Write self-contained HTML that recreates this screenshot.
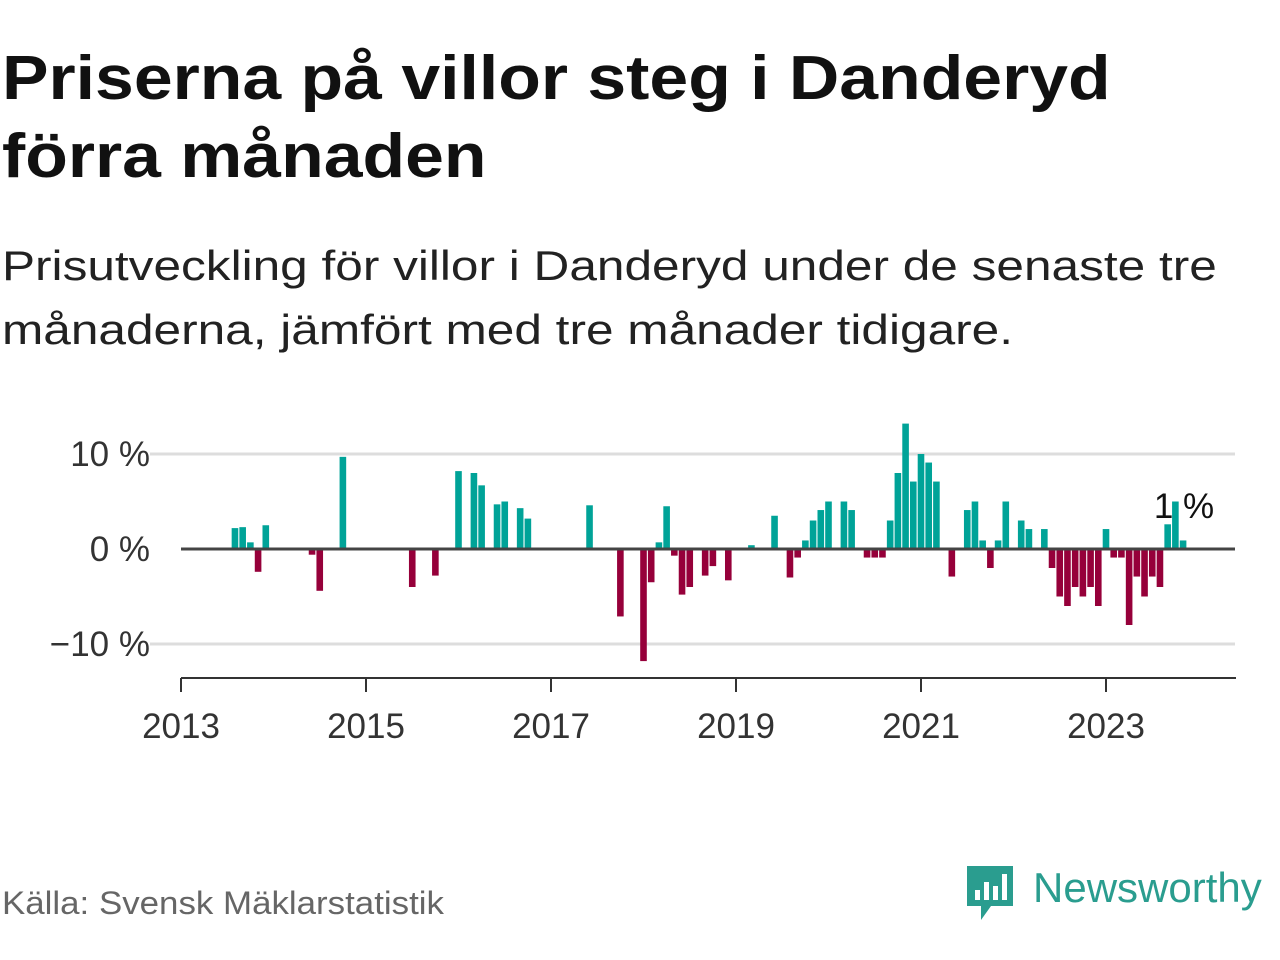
<!DOCTYPE html>
<html><head><meta charset="utf-8">
<style>
body{margin:0;width:1280px;height:960px;background:#fff;font-family:"Liberation Sans",sans-serif;overflow:hidden;position:relative}
h1{position:absolute;left:2px;top:40px;margin:0;font-size:62px;line-height:78px;font-weight:bold;color:#111;transform:scaleX(1.125);transform-origin:0 0;white-space:nowrap}
.sub{position:absolute;left:2px;top:234px;margin:0;font-size:42px;line-height:64px;color:#222;transform:scaleX(1.18);transform-origin:0 0;white-space:nowrap}
.src{position:absolute;left:2px;top:885px;font-size:32px;color:#666;transform:scaleX(1.09);transform-origin:0 0;white-space:nowrap}
.logo{position:absolute;left:965px;top:862px}
</style></head><body>
<h1>Priserna på villor steg i Danderyd<br>förra månaden</h1>
<p class="sub">Prisutveckling för villor i Danderyd under de senaste tre<br>månaderna, jämfört med tre månader tidigare.</p>
<svg id="chart" width="1280" height="960" style="position:absolute;left:0;top:0"></svg>
<div class="src">Källa: Svensk Mäklarstatistik</div>
<div class="logo">
<svg width="315" height="64"><path d="M2 4h46v40h-22l-10 14v-14h-14z" fill="#2a9d8f"/><rect x="10" y="28" width="5" height="10" fill="#fff"/><rect x="19" y="20" width="5" height="18" fill="#fff"/><rect x="28" y="24" width="5" height="14" fill="#fff"/><rect x="37" y="12" width="5" height="26" fill="#fff"/><text x="68" y="40" font-family="Liberation Sans" font-size="42" fill="#2a9d8f">Newsworthy</text></svg></div>
<script>
const months=[7,8,9,10,11,17,18,21,30,33,36,38,39,41,42,44,45,53,57,60,61,62,63,64,65,66,68,69,71,74,77,79,80,81,82,83,84,86,87,89,90,91,92,93,94,95,96,97,98,100,102,103,104,105,106,107,109,110,112,113,114,115,116,117,118,119,120,121,122,123,124,125,126,127,128,129,130];
const values=[2.2,2.3,0.7,-2.4,2.5,-0.6,-4.4,9.7,-4.0,-2.8,8.2,8.0,6.7,4.7,5.0,4.3,3.2,4.6,-7.1,-11.8,-3.5,0.7,4.5,-0.7,-4.8,-4.0,-2.8,-1.8,-3.3,0.4,3.5,-3.0,-0.9,0.9,3.0,4.1,5.0,5.0,4.1,-0.9,-0.9,-0.9,3.0,8.0,13.2,7.1,10.0,9.1,7.1,-2.9,4.1,5.0,0.9,-2.0,0.9,5.0,3.0,2.1,2.1,-2.0,-5.0,-6.0,-4.0,-5.0,-4.0,-6.0,2.1,-0.9,-0.9,-8.0,-2.9,-5.0,-2.9,-4.0,2.6,5.0,0.9];
const yTicks=[10,0,-10];
const yLabels=["10 %","0 %","−10 %"];
const xYears=[2013,2015,2017,2019,2021,2023];
const ns="http://www.w3.org/2000/svg";
const svg=document.getElementById('chart');
const x=m=>181+m*(185/24);
const y=v=>549-v*9.5;
function mk(t,a){const e=document.createElementNS(ns,t);for(const k in a)e.setAttribute(k,a[k]);svg.appendChild(e);return e;}
yTicks.forEach((t,i)=>{
 if(t!==0){const g=mk('line',{x1:150,x2:1235,y1:y(t),y2:y(t),stroke:'#ddd','stroke-width':3});
 
 }
 const l=mk('text',{x:150,y:y(t)+12,'text-anchor':'end','font-size':35,fill:'#333','font-family':'Liberation Sans'});l.textContent=yLabels[i];
 
 
});
months.forEach((m,i)=>{const v=values[i];
 const r=mk('rect',{x:x(m)-3.3,width:6.6,y:v>0?y(v):549,height:Math.abs(v)*9.5,fill:v>0?'#00a398':'#96003a'});
 
 
});
const z=mk('line',{x1:181,x2:1235,y1:549,y2:549,stroke:'#444','stroke-width':3});


const ax=mk('line',{x1:181,x2:1236,y1:678,y2:678,stroke:'#333','stroke-width':2});


xYears.forEach(yr=>{const xx=x((yr-2013)*12);
 const t=mk('line',{x1:xx,x2:xx,y1:678,y2:692,stroke:'#333','stroke-width':2});
 
 
 const l=mk('text',{x:xx,y:738,'text-anchor':'middle','font-size':35,fill:'#333','font-family':'Liberation Sans'});l.textContent=yr;
 
 
});
const lab=mk('text',{x:1184,y:518,'text-anchor':'middle','font-size':35,fill:'#111','font-family':'Liberation Sans'});lab.textContent="1 %";


</script>
</body></html>
